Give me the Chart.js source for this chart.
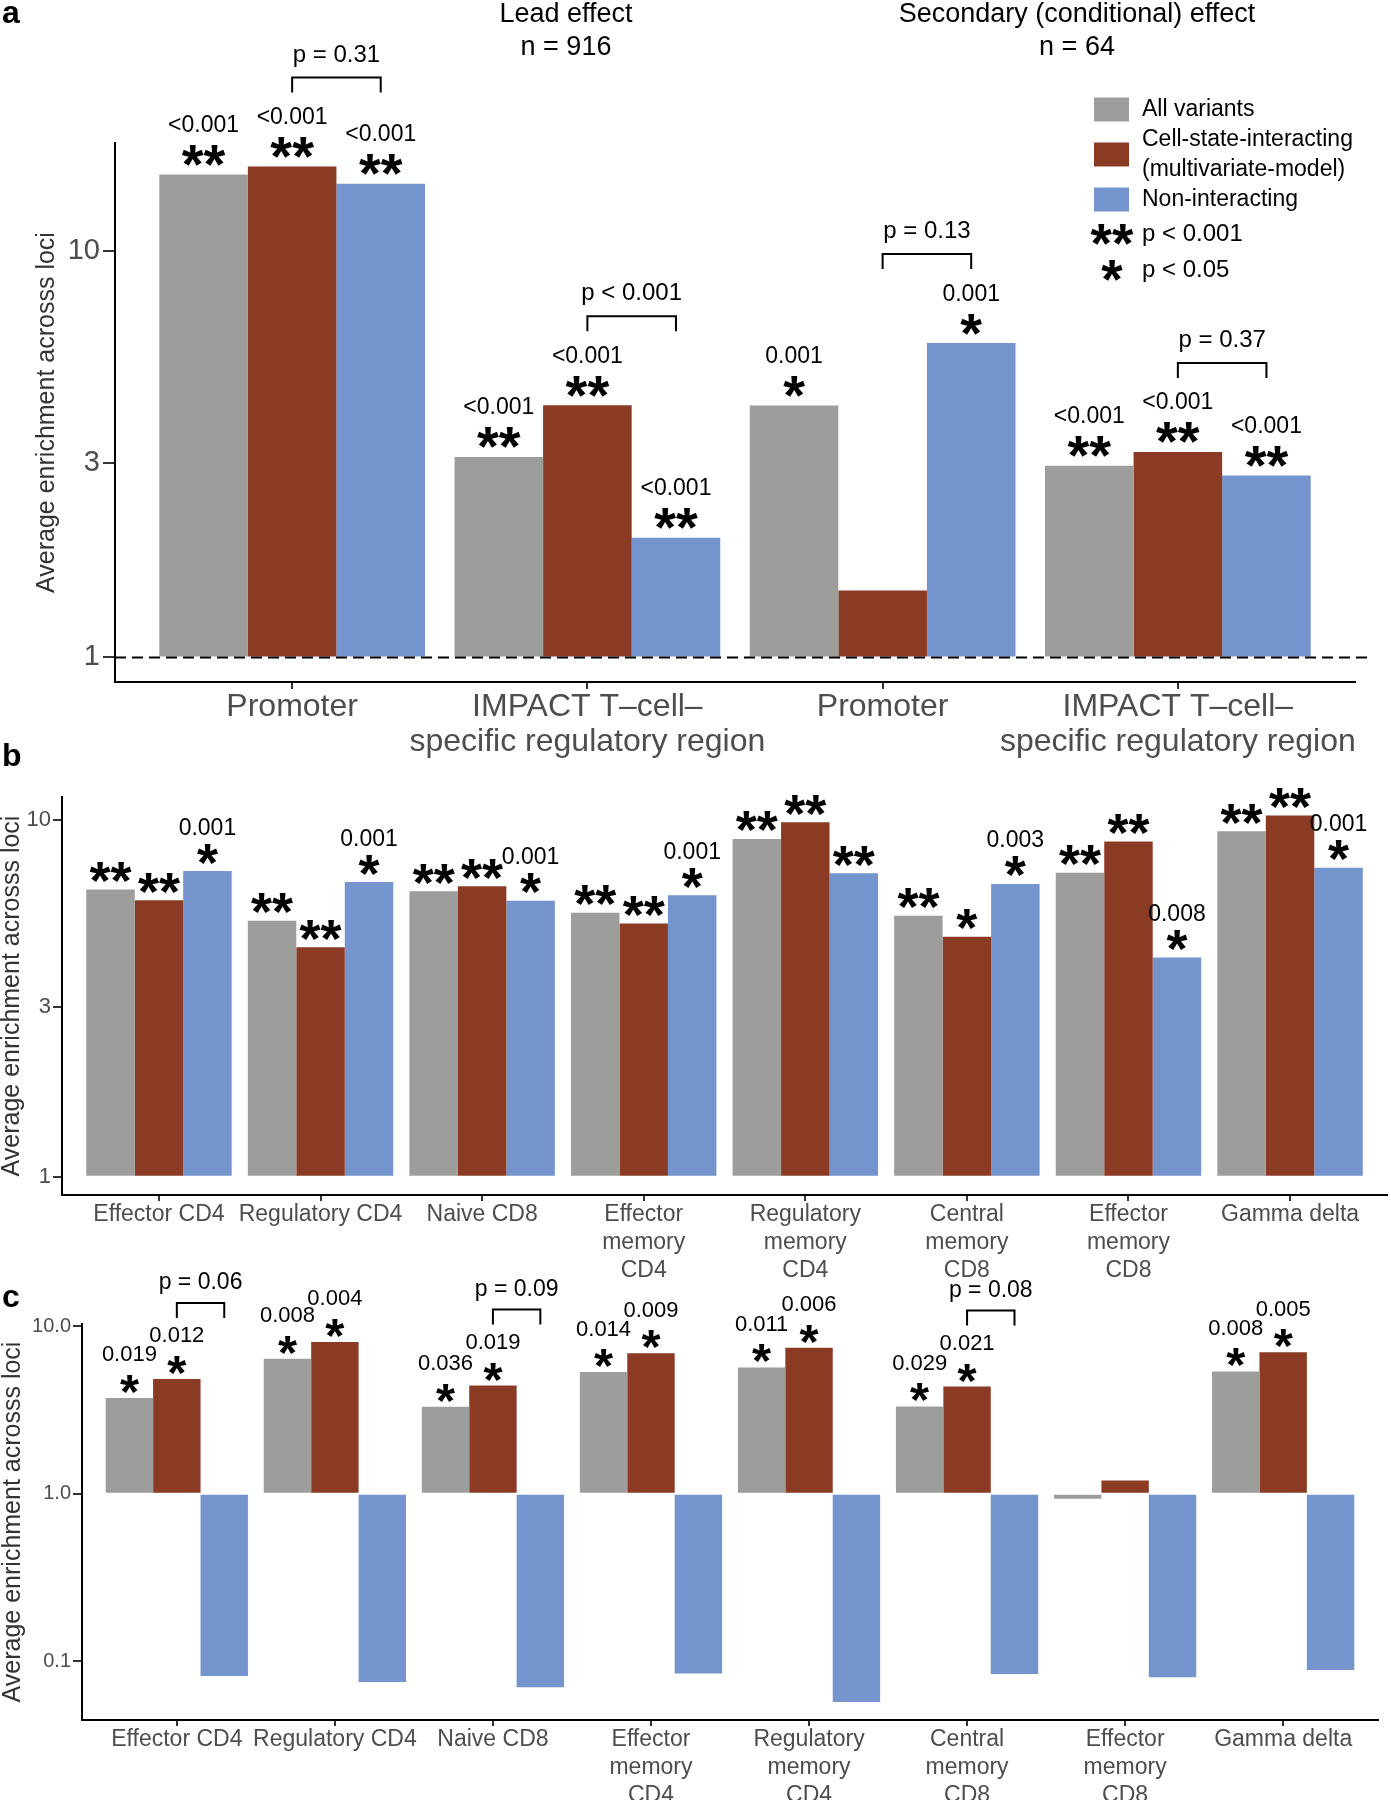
<!DOCTYPE html>
<html>
<head>
<meta charset="utf-8">
<script src="https://cdn.jsdelivr.net/npm/chart.js@4.4.1/dist/chart.umd.min.js"></script>
<style>
  body { margin: 0; background: #fff; }
  #wrap { position: relative; width: 1391px; height: 1800px; background: #fff; }
  canvas { position: absolute; left: 0; }
</style>
</head>
<body>
<div id="wrap">
  <canvas id="pa" width="1391" height="780" style="top:0px"></canvas>
  <canvas id="pb" width="1391" height="545" style="top:740px"></canvas>
  <canvas id="pc" width="1391" height="550" style="top:1250px"></canvas>
</div>
<script>
// ---- data ----
const seriesNames = ['All variants', 'Cell-state-interacting\n(multivariate-model)', 'Non-interacting'];
const seriesColors = ['#9d9e9b', '#8b3a24', '#7394cc'];
const sigSymbols = ['**', '*'];
const sigLabels = ['p < 0.001', 'p < 0.05'];
const yTitle = 'Average enrichment acrosss loci';

// panel a
const aCategories = ['Promoter', ['IMPACT T\u2013cell\u2013', 'specific regulatory region'], 'Promoter', ['IMPACT T\u2013cell\u2013', 'specific regulatory region']];
const aAll = [15.4, 3.11, 4.16, 2.96];
const aInteracting = [16.1, 4.17, 1.46, 3.20];
const aNonInteracting = [14.6, 1.97, 5.93, 2.80];
const aAllStars = ['**', '**', '*', '**'];
const aInteractingStars = ['**', '**', '', '**'];
const aNonInteractingStars = ['**', '**', '*', '**'];
const aAllP = ['<0.001', '<0.001', '0.001', '<0.001'];
const aInteractingP = ['<0.001', '<0.001', '', '<0.001'];
const aNonInteractingP = ['<0.001', '<0.001', '0.001', '<0.001'];
const aBrackets = ['p = 0.31', 'p < 0.001', 'p = 0.13', 'p = 0.37'];
const aYTicks = [1, 3, 10];
const aHeaders = [['Lead effect', 'n = 916'], ['Secondary (conditional) effect', 'n = 64']];

// panel b
const bCategories = ['Effector CD4', 'Regulatory CD4', 'Naive CD8', ['Effector', 'memory', 'CD4'], ['Regulatory', 'memory', 'CD4'], ['Central', 'memory', 'CD8'], ['Effector', 'memory', 'CD8'], 'Gamma delta'];
const bAll = [6.39, 5.22, 6.31, 5.50, 8.85, 5.39, 7.11, 9.30];
const bInteracting = [5.96, 4.40, 6.52, 5.13, 9.85, 4.71, 8.71, 10.3];
const bNonInteracting = [7.19, 6.70, 5.94, 6.15, 7.09, 6.62, 4.12, 7.35];
const bAllStars = ['**', '**', '**', '**', '**', '**', '**', '**'];
const bInteractingStars = ['**', '**', '**', '**', '**', '*', '**', '**'];
const bNonInteractingStars = ['*', '*', '*', '*', '**', '*', '*', '*'];
const bNonInteractingP = ['0.001', '0.001', '0.001', '0.001', '', '0.003', '0.008', '0.001'];
const bYTicks = [1, 3, 10];

// panel c
const cCategories = bCategories;
const cAll = [3.73, 6.40, 3.31, 5.32, 5.67, 3.32, 0.933, 5.37];
const cInteracting = [4.84, 8.05, 4.42, 6.90, 7.43, 4.36, 1.20, 6.99];
const cNonInteracting = [0.0819, 0.0753, 0.0702, 0.0846, 0.0572, 0.0842, 0.0804, 0.0889];
const cAllStars = ['*', '*', '*', '*', '*', '*', '', '*'];
const cInteractingStars = ['*', '*', '*', '*', '*', '*', '', '*'];
const cAllP = ['0.019', '0.008', '0.036', '0.014', '0.011', '0.029', '', '0.008'];
const cInteractingP = ['0.012', '0.004', '0.019', '0.009', '0.006', '0.021', '', '0.005'];
const cBrackets = ['p = 0.06', '', 'p = 0.09', '', '', 'p = 0.08', '', ''];
const cYTicks = [0.1, 1, 10];

// ---- drawing ----
const FAMILY = '"Liberation Sans", Arial, Helvetica, sans-serif';
Chart.defaults.font.family = FAMILY;
const GREY = '#4d4d4d';

function centerText(ctx, text, x, y, font, align) {
  ctx.font = font;
  ctx.textAlign = align || 'center';
  ctx.textBaseline = 'alphabetic';
  const m = ctx.measureText(text);
  ctx.fillText(text, x, y + (m.actualBoundingBoxAscent - m.actualBoundingBoxDescent) / 2);
}

function annotations(p) {
  return {
    id: 'annot',
    afterDatasetsDraw(chart) {
      const ctx = chart.ctx;
      const area = chart.chartArea;
      const metas = [0, 1, 2].map(i => chart.getDatasetMeta(i));
      ctx.save();
      ctx.fillStyle = '#000';
      if (p.refLine) {
        const y1 = chart.scales.y.getPixelForValue(1);
        ctx.strokeStyle = '#000';
        ctx.lineWidth = 2;
        ctx.setLineDash([11, 6]);
        ctx.beginPath();
        ctx.moveTo(area.left, y1);
        ctx.lineTo(area.right + 12, y1);
        ctx.stroke();
        ctx.setLineDash([]);
      }
      p.stars.forEach((stars, d) => {
        metas[d].data.forEach((bar, i) => {
          const top = Math.min(bar.y, bar.base);
          if (stars[i]) centerText(ctx, stars[i], bar.x, top - p.starGap, p.starFont);
          if (p.pvals[d] && p.pvals[d][i]) centerText(ctx, p.pvals[d][i], bar.x, top - p.pGap, p.pFont);
        });
      });
      (p.brackets || []).forEach((label, i) => {
        if (!label) return;
        const r = metas[1].data[i], b = metas[2].data[i];
        const top = Math.min(r.y, b.y, r.base);
        const yb = top - p.brGap[0], yt = top - p.brGap[1];
        ctx.strokeStyle = '#000';
        ctx.lineWidth = 2;
        ctx.beginPath();
        ctx.moveTo(r.x, yb);
        ctx.lineTo(r.x, yt);
        ctx.lineTo(b.x, yt);
        ctx.lineTo(b.x, yb);
        ctx.stroke();
        centerText(ctx, label, (r.x + b.x) / 2, top - p.brGap[2], p.brFont || p.pFont);
      });
      ctx.restore();
    },
    afterDraw(chart) {
      const ctx = chart.ctx;
      ctx.save();
      ctx.fillStyle = '#000';
      ctx.font = 'bold 32px ' + FAMILY;
      ctx.textAlign = 'left';
      ctx.textBaseline = 'middle';
      ctx.fillText(p.letter, 2, p.letterY);
      if (p.extra) p.extra(ctx, chart);
      ctx.restore();
    }
  };
}

function drawLegendAndHeaders(ctx, chart) {
  ctx.fillStyle = '#000';
  ctx.textBaseline = 'middle';
  ctx.textAlign = 'center';
  ctx.font = '27px ' + FAMILY;
  const hx = [566, 1077];
  aHeaders.forEach((h, k) => {
    ctx.fillText(h[0], hx[k], 15);
    ctx.fillText(h[1], hx[k], 48);
  });
  const rows = [109.5, 154.5, 199.5];
  ctx.font = '23px ' + FAMILY;
  chart.data.datasets.forEach((ds, k) => {
    ctx.fillStyle = ds.backgroundColor;
    ctx.fillRect(1094, rows[k] - 12, 35, 24);
    ctx.fillStyle = '#000';
    ctx.textAlign = 'left';
    const lines = seriesNames[k].split('\n');
    lines.forEach((ln, j) => {
      ctx.fillText(ln, 1142, rows[k] + (j - (lines.length - 1) / 2) * 30);
    });
  });
  const srows = [234, 270];
  sigSymbols.forEach((s, k) => {
    centerText(ctx, s, 1112, srows[k], 'bold 55px ' + FAMILY);
    ctx.font = '24px ' + FAMILY;
    ctx.textAlign = 'left';
    ctx.textBaseline = 'middle';
    ctx.fillText(sigLabels[k], 1142, srows[k]);
  });
}

function makePanel(id, cats, series, cfg, plug) {
  const datasets = series.map((vals, k) => ({
    label: seriesNames[k],
    data: vals.map((v, i) => ({ x: i + 1, y: v })),
    backgroundColor: seriesColors[k],
    borderWidth: 0,
    base: 1,
    categoryPercentage: 0.9,
    barPercentage: 1.0
  }));
  return new Chart(document.getElementById(id), {
    type: 'bar',
    data: { datasets },
    options: {
      responsive: false,
      animation: false,
      devicePixelRatio: 1,
      events: [],
      layout: { padding: { top: cfg.padTop, right: cfg.padRight, left: 0, bottom: 0 } },
      plugins: { legend: { display: false }, tooltip: { enabled: false } },
      scales: {
        x: {
          type: 'linear',
          min: 0.4,
          max: cats.length + 0.6,
          offset: false,
          afterBuildTicks: s => { s.ticks = cats.map((c, i) => ({ value: i + 1 })); },
          afterFit: s => { s.height = cfg.xHeight; },
          ticks: {
            callback: v => cats[v - 1],
            autoSkip: false, maxRotation: 0, padding: 0,
            color: GREY,
            font: { size: cfg.xFont, lineHeight: cfg.xLine }
          },
          grid: { offset: false, drawOnChartArea: false, tickLength: cfg.xTick, color: '#333', lineWidth: 2 },
          border: { color: '#000', width: 2 }
        },
        y: {
          type: 'logarithmic',
          min: cfg.yMin,
          max: cfg.yMax,
          afterBuildTicks: s => { s.ticks = cfg.yTicks.map(v => ({ value: v })); },
          afterFit: s => { s.width = cfg.yWidth; },
          ticks: {
            callback: cfg.yFmt,
            color: GREY, padding: cfg.yPad,
            font: { size: cfg.yFont }
          },
          grid: { drawOnChartArea: false, tickLength: cfg.yTick, color: '#333', lineWidth: 2 },
          border: { color: '#000', width: 2 },
          title: {
            display: true, text: yTitle, color: '#333',
            font: { size: 25, lineHeight: 1 },
            padding: { top: cfg.titlePad, bottom: 0 }
          }
        }
      }
    },
    plugins: [annotations(plug)]
  });
}

makePanel('pa', aCategories, [aAll, aInteracting, aNonInteracting], {
  padTop: 143, padRight: 36, xHeight: 98, yWidth: 115,
  yMin: 0.87, yMax: 18.4, yTicks: aYTicks, yFmt: v => String(v),
  xFont: 32, xLine: 1.11, xTick: 7, yFont: 29, yTick: 12, yPad: 3, titlePad: 35
}, {
  letter: 'a', letterY: 14, refLine: true,
  stars: [aAllStars, aInteractingStars, aNonInteractingStars],
  pvals: [aAllP, aInteractingP, aNonInteractingP],
  brackets: aBrackets,
  starGap: 19, pGap: 51, brGap: [74, 89, 111],
  starFont: 'bold 56px ' + FAMILY, pFont: '23px ' + FAMILY, brFont: '24px ' + FAMILY,
  extra: drawLegendAndHeaders
});

makePanel('pb', bCategories, [bAll, bInteracting, bNonInteracting], {
  padTop: 57, padRight: 4, xHeight: 90, yWidth: 62,
  yMin: 0.889, yMax: 11.6, yTicks: bYTicks, yFmt: v => String(v),
  xFont: 23, xLine: 1.22, xTick: 6, yFont: 22, yTick: 9, yPad: 2, titlePad: 0
}, {
  letter: 'b', letterY: 17,
  stars: [bAllStars, bInteractingStars, bNonInteractingStars],
  pvals: [null, null, bNonInteractingP],
  starGap: 17, pGap: 45,
  starFont: 'bold 54px ' + FAMILY, pFont: '23px ' + FAMILY
});

makePanel('pc', cCategories, [cAll, cInteracting, cNonInteracting], {
  padTop: 74, padRight: 13, xHeight: 80, yWidth: 82,
  yMin: 0.0447, yMax: 10.3, yTicks: cYTicks, yFmt: v => v.toFixed(1),
  xFont: 23, xLine: 1.22, xTick: 6, yFont: 20, yTick: 9, yPad: 2, titlePad: 1
}, {
  letter: 'c', letterY: 48,
  stars: [cAllStars, cInteractingStars, []],
  pvals: [cAllP, cInteractingP, null],
  brackets: cBrackets,
  starGap: 14, pGap: 44, brGap: [61, 76, 96],
  starFont: 'bold 49px ' + FAMILY, pFont: '22px ' + FAMILY, brFont: '23px ' + FAMILY
});
</script>
</body>
</html>
